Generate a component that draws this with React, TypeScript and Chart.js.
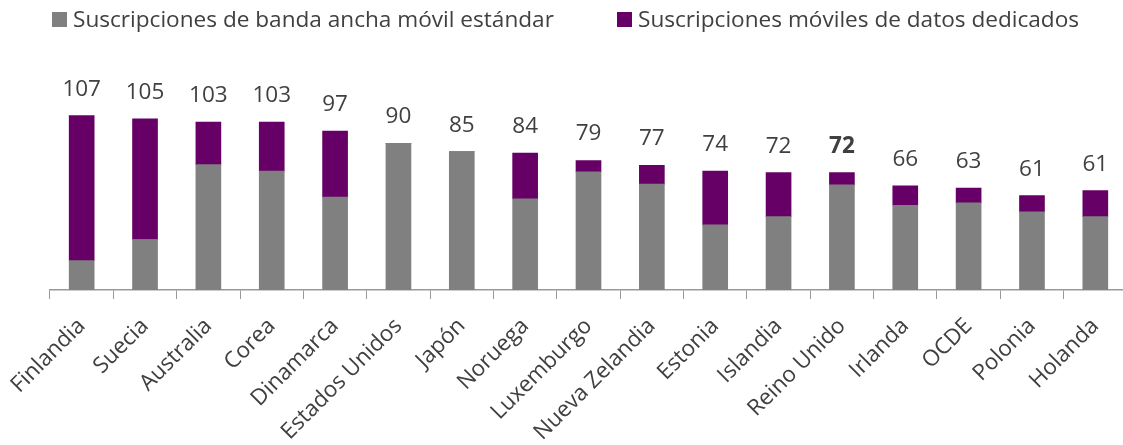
import React, { useEffect, useRef } from "react";
import { Chart, registerables } from "chart.js";

Chart.register(...registerables);

const categories = [
  "Finlandia", "Suecia", "Australia", "Corea", "Dinamarca", "Estados Unidos", "Japón",
  "Noruega", "Luxemburgo", "Nueva Zelandia", "Estonia", "Islandia", "Reino Unido",
  "Irlanda", "OCDE", "Polonia", "Holanda",
];
const standardBroadband = [18, 31, 77, 73, 57, 90, 85, 56, 72.5, 65, 40, 45, 64.5, 52, 53.5, 48, 45];
const dedicatedData = [89, 74, 26, 30, 40.5, 0, 0, 28, 7, 11.5, 33, 27, 7.5, 12, 9, 10, 16];
const totalLabels = ["107", "105", "103", "103", "97", "90", "85", "84", "79", "77", "74", "72", "72", "66", "63", "61", "61"];
const boldLabelIndex = 12;
const seriesNames = [
  "Suscripciones de banda ancha móvil estándar",
  "Suscripciones móviles de datos dedicados",
];
const seriesColors = ["#808080", "#660066"];

const FONT = "'Open Sans', 'DejaVu Sans', sans-serif";
const TEXT = "#404040";

const overlayPlugin = {
  id: "overlay",
  afterDraw(chart: any) {
    const ctx = chart.ctx;
    const y = chart.scales.y;
    const meta0 = chart.getDatasetMeta(0);
    ctx.save();
    // value labels
    ctx.fillStyle = TEXT;
    ctx.textAlign = "center";
    ctx.textBaseline = "alphabetic";
    categories.forEach((_, i) => {
      const total = standardBroadband[i] + dedicatedData[i];
      const top = y.getPixelForValue(total);
      const x = meta0.data[i].x;
      ctx.font = (i === boldLabelIndex ? "bold " : "") + "22.5px " + FONT;
      ctx.fillText(totalLabels[i], x, top - 20);
    });
    // legend
    const legendX = [52, 617];
    ctx.font = "22.6px " + FONT;
    ctx.textAlign = "left";
    seriesNames.forEach((name, k) => {
      ctx.fillStyle = seriesColors[k];
      ctx.fillRect(legendX[k], 12, 15, 15);
      ctx.fillStyle = TEXT;
      ctx.fillText(name, legendX[k] + 21, 27);
    });
    ctx.restore();
  },
};

export default function App() {
  const ref = useRef<HTMLCanvasElement>(null);
  useEffect(() => {
    if (!ref.current) return;
    const chart = new Chart(ref.current, {
      type: "bar",
      data: {
        labels: categories,
        datasets: [
          { label: seriesNames[0], data: standardBroadband, backgroundColor: seriesColors[0] },
          { label: seriesNames[1], data: dedicatedData, backgroundColor: seriesColors[1] },
        ],
      },
      options: {
        animation: false,
        responsive: false,
        maintainAspectRatio: false,
        layout: { padding: { top: 94.5, left: 50, right: 1, bottom: 0 } },
        plugins: { legend: { display: false }, tooltip: { enabled: false } },
        datasets: { bar: { barThickness: 25 } },
        scales: {
          x: {
            stacked: true,
            offset: true,
            grid: {
              offset: true,
              drawOnChartArea: false,
              drawTicks: true,
              tickLength: 9,
              color: "#999999",
            },
            border: { display: true, color: "#999999", width: 1.5 },
            ticks: {
              autoSkip: false,
              minRotation: 45,
              maxRotation: 45,
              padding: 14,
              color: TEXT,
              font: { family: FONT, size: 22.3 },
            },
            afterFit(scale: any) {
              scale.height = 155;
              scale.paddingLeft = 0;
              scale.paddingRight = 0;
            },
          },
          y: {
            stacked: true,
            display: false,
            min: 0,
            max: 120,
          },
        },
      },
      plugins: [overlayPlugin],
    });
    return () => chart.destroy();
  }, []);
  return (
    <div style={{ position: "fixed", left: 0, top: 0, width: 1128, height: 445, background: "#fff" }}>
      <canvas ref={ref} width={1128} height={445} style={{ width: 1128, height: 445, display: "block" }} />
    </div>
  );
}
